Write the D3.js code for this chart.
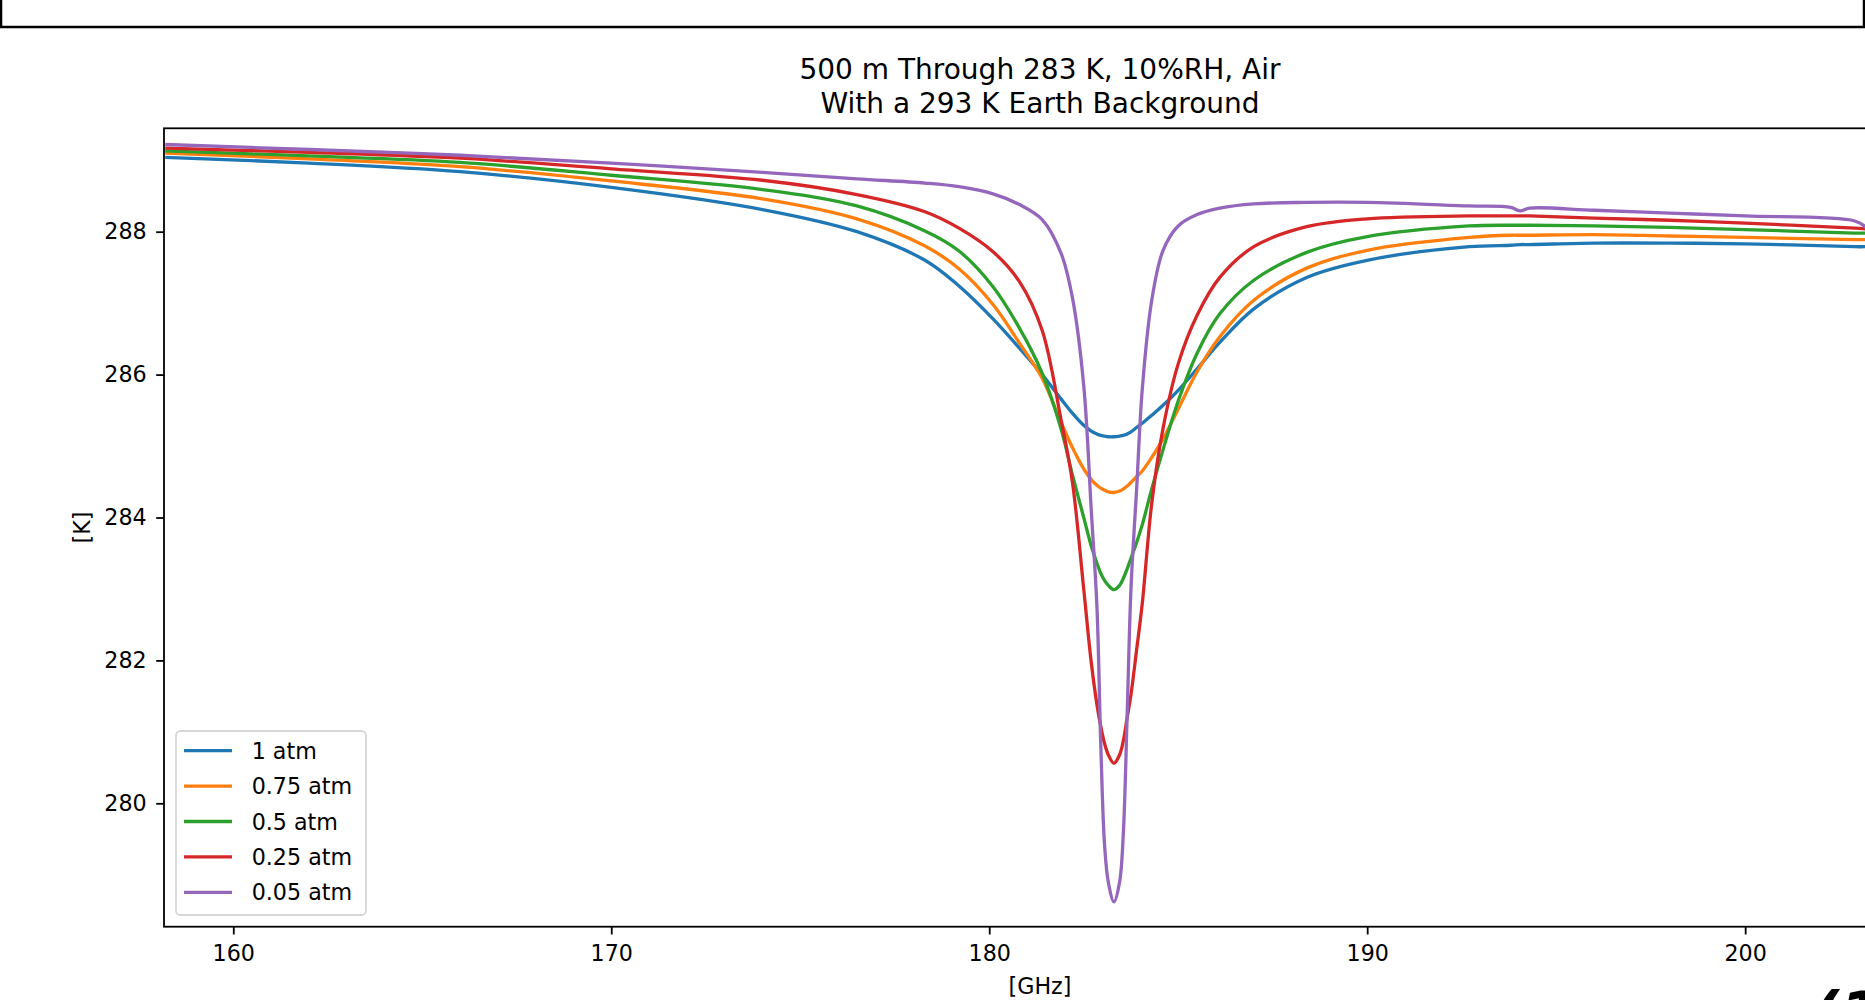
<!DOCTYPE html>
<meta charset="utf-8">
<body style="margin:0">
<style>
  body { background: #fff; }
  svg text { font-family: "DejaVu Sans", sans-serif; fill: #000; }
  .axis text { font-size: 22.2px; }
  .axis line { stroke: #000; stroke-width: 1.8px; }
</style>
<div id="chart"></div>
<script src="https://d3js.org/d3.v7.min.js"></script>
<script>
// frequency grid (GHz); denser around the 183.3 GHz line
var freqGHz = [158.2, 162, 166, 170, 174, 176.5, 178.3, 179.2, 180.1, 180.8, 181.4, 181.9, 182.2, 182.5, 182.7,
  182.85, 182.95, 183.05, 183.15, 183.3, 183.45, 183.55, 183.65, 183.75, 183.9, 184.05, 184.3, 184.6, 185.0,
  185.5, 186.1, 187.0, 188.4, 190, 192.7, 193.8, 194.05, 194.3, 196, 198, 200, 202.9, 203.2];

// brightness temperature [K] for each pressure
var atm100 = [289.04, 288.96, 288.84, 288.62, 288.31, 288.0, 287.6, 287.24, 286.78, 286.37, 286.0, 285.66, 285.46, 285.29, 285.21,
  285.17, 285.15, 285.14, 285.13, 285.13, 285.14, 285.15, 285.17, 285.2, 285.26, 285.32, 285.43, 285.57, 285.78,
  286.08, 286.45, 286.92, 287.36, 287.6, 287.79, 287.81, 287.82, 287.82, 287.84, 287.84, 287.83, 287.79, 287.79];
var atm075 = [289.10, 289.02, 288.91, 288.71, 288.46, 288.18, 287.8, 287.48, 286.98, 286.44, 285.95, 285.33, 284.98, 284.68, 284.53,
  284.45, 284.41, 284.38, 284.36, 284.35, 284.37, 284.40, 284.44, 284.49, 284.57, 284.65, 284.84, 285.1, 285.52,
  286.04, 286.53, 287.04, 287.49, 287.74, 287.92, 287.95, 287.95, 287.95, 287.96, 287.94, 287.92, 287.89, 287.89];
var atm050 = [289.13, 289.06, 288.97, 288.79, 288.59, 288.36, 288.01, 287.73, 287.23, 286.65, 286.02, 285.24, 284.6, 284.0, 283.6,
  283.36, 283.22, 283.12, 283.05, 282.99, 283.05, 283.15, 283.28, 283.43, 283.65, 283.9, 284.4, 284.95, 285.63,
  286.3, 286.85, 287.32, 287.71, 287.93, 288.08, 288.09, 288.09, 288.09, 288.08, 288.06, 288.03, 287.98, 287.98];
var atm025 = [289.17, 289.11, 289.03, 288.88, 288.72, 288.52, 288.28, 288.05, 287.72, 287.3, 286.62, 285.37, 284.5, 283.0, 281.97,
  281.38, 281.08, 280.84, 280.68, 280.56, 280.68, 280.88, 281.2, 281.52, 282.15, 282.8, 284.2, 285.25, 286.15,
  286.83, 287.36, 287.79, 288.07, 288.18, 288.22, 288.22, 288.22, 288.22, 288.19, 288.16, 288.12, 288.05, 288.04];
var atm005 = [289.22, 289.15, 289.07, 288.96, 288.83, 288.74, 288.68, 288.63, 288.53, 288.38, 288.17, 287.7, 287.08, 285.85, 284.1,
  282.75, 280.85, 279.43, 278.9, 278.62, 278.9, 279.6, 281.25, 283.0, 284.4, 285.8, 287.04, 287.74, 288.08,
  288.24, 288.33, 288.39, 288.41, 288.41, 288.36, 288.34, 288.29, 288.33, 288.30, 288.26, 288.22, 288.15, 288.06];

var seriesNames = ["1 atm", "0.75 atm", "0.5 atm", "0.25 atm", "0.05 atm"];
var seriesValues = [atm100, atm075, atm050, atm025, atm005];
var seriesColors = ["#1f77b4", "#ff7f0e", "#2ca02c", "#d62728", "#9467bd"];

var xTicks = [160, 170, 180, 190, 200];
var yTicks = [280, 282, 284, 286, 288];

var titleLines = ["500 m Through 283 K, 10%RH, Air", "With a 293 K Earth Background"];

var W = 1865, H = 1000;
var margin = {left: 164, top: 128.3, right: 1916, bottom: 926.7};

var svg = d3.select("#chart").append("svg")
  .attr("width", W)
  .attr("height", H)
  .style("display", "block");

// notebook cell border at the top of the screenshot
svg.append("rect")
  .attr("x", 1).attr("y", -10)
  .attr("width", W - 2).attr("height", 37)
  .attr("fill", "none")
  .attr("stroke", "#000")
  .attr("stroke-width", 2.5);

var x = d3.scaleLinear()
  .domain([158.167, 204.52])
  .range([margin.left, margin.right]);

var y = d3.scaleLinear()
  .domain([278.273, 289.447])
  .range([margin.bottom, margin.top]);

svg.append("clipPath").attr("id", "plotclip")
  .append("rect")
  .attr("x", margin.left).attr("y", margin.top)
  .attr("width", margin.right - margin.left)
  .attr("height", margin.bottom - margin.top);

// lines
var line = d3.line()
  .x(function(d) { return x(d[0]); })
  .y(function(d) { return y(d[1]); })
  .curve(d3.curveCatmullRom.alpha(0.5));

var plot = svg.append("g").attr("clip-path", "url(#plotclip)");
seriesValues.forEach(function(vals, i) {
  var pts = freqGHz.map(function(f, j) { return [f, vals[j]]; });
  plot.append("path")
    .datum(pts)
    .attr("d", line)
    .attr("fill", "none")
    .attr("stroke", seriesColors[i])
    .attr("stroke-width", 3.3)
    .attr("stroke-linejoin", "round")
    .attr("stroke-linecap", "butt");
});

// axes
var xAxis = svg.append("g")
  .attr("class", "axis")
  .attr("transform", "translate(0," + margin.bottom + ")")
  .call(d3.axisBottom(x).tickValues(xTicks).tickSize(7.8).tickPadding(11).tickSizeOuter(0).tickFormat(d3.format("d")));
xAxis.select(".domain").remove();

var yAxis = svg.append("g")
  .attr("class", "axis")
  .attr("transform", "translate(" + margin.left + ",0)")
  .call(d3.axisLeft(y).tickValues(yTicks).tickSize(7.8).tickPadding(9.5).tickSizeOuter(0).tickFormat(d3.format("d")));
yAxis.select(".domain").remove();

svg.selectAll(".axis text").attr("font-family", "DejaVu Sans").style("font-size", "22.2px").attr("fill", "#000");

// spines
svg.append("rect")
  .attr("x", margin.left).attr("y", margin.top)
  .attr("width", margin.right - margin.left)
  .attr("height", margin.bottom - margin.top)
  .attr("fill", "none")
  .attr("stroke", "#000")
  .attr("stroke-width", 1.8);

// axis labels
svg.append("text")
  .attr("x", (margin.left + margin.right) / 2)
  .attr("y", 994)
  .style("text-anchor", "middle")
  .style("font-size", "22.2px")
  .text("[GHz]");

svg.append("text")
  .attr("transform", "translate(90," + (margin.top + margin.bottom) / 2 + ") rotate(-90)")
  .style("text-anchor", "middle")
  .style("font-size", "22.2px")
  .text("[K]");

// title
svg.selectAll(".title")
  .data(titleLines)
  .enter().append("text")
  .attr("class", "title")
  .attr("x", (margin.left + margin.right) / 2)
  .attr("y", function(d, i) { return 78.5 + i * 34.5; })
  .style("text-anchor", "middle")
  .style("font-size", "28px")
  .text(function(d) { return d; });

// legend
var legend = svg.append("g");
legend.append("rect")
  .attr("x", 176).attr("y", 731)
  .attr("width", 190).attr("height", 184)
  .attr("rx", 4.4)
  .attr("fill", "#fff").attr("fill-opacity", 0.8)
  .attr("stroke", "#d6d6d6")
  .attr("stroke-width", 1.8);

var rows = legend.selectAll(".row")
  .data(seriesNames)
  .enter().append("g")
  .attr("class", "row")
  .attr("transform", function(d, i) { return "translate(0," + (750.7 + i * 35.4) + ")"; });

rows.append("line")
  .attr("x1", 184).attr("x2", 232)
  .attr("stroke", function(d, i) { return seriesColors[i]; })
  .attr("stroke-width", 3.3);

rows.append("text")
  .attr("x", 251.7)
  .attr("dy", "0.36em")
  .style("font-size", "22.2px")
  .text(function(d) { return d; });

// partial glyph at the bottom right edge of the screenshot (cut off there in the original too)
svg.append("text")
  .attr("x", 1812)
  .attr("y", 1035)
  .style("font-size", "60px")
  .style("font-weight", "bold")
  .style("font-style", "italic")
  .text("(1");
</script>
